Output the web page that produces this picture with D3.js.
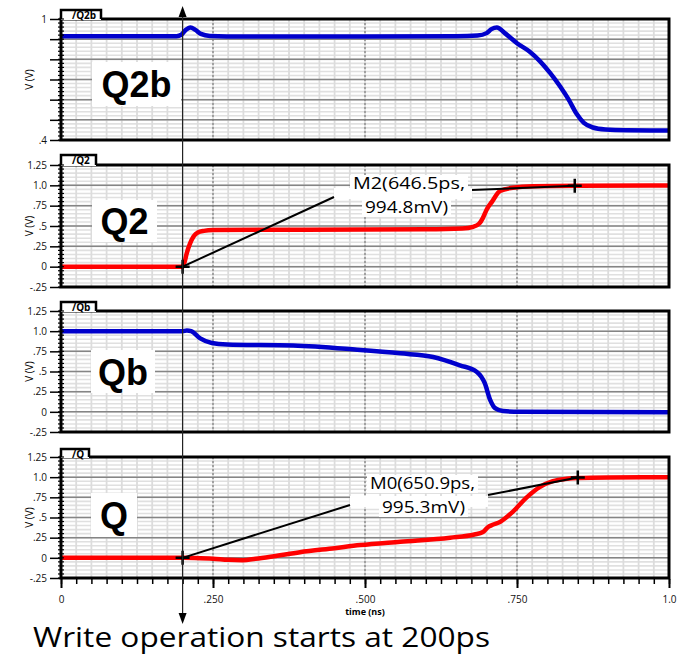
<!DOCTYPE html>
<html>
<head>
<meta charset="utf-8">
<script src="https://cdn.jsdelivr.net/npm/d3@7"></script>
<style>
  body { margin: 0; background: #fff; }
</style>
</head>
<body>
<div id="chart"></div>
<script>
// data: [time (ns), voltage (V)]
var q2b = [[0, 0.915], [0.19, 0.915], [0.198, 0.922], [0.205, 0.945], [0.213, 0.958], [0.221, 0.946], [0.23, 0.926], [0.245, 0.916],
  [0.3, 0.913], [0.5, 0.913], [0.65, 0.914], [0.685, 0.918], [0.7, 0.93], [0.708, 0.95], [0.717, 0.958], [0.73, 0.93],
  [0.75, 0.88], [0.77, 0.84], [0.788, 0.79], [0.805, 0.73], [0.821, 0.665], [0.835, 0.6], [0.848, 0.53], [0.86, 0.485],
  [0.875, 0.462], [0.895, 0.452], [0.93, 0.448], [1.0, 0.447]];
var q2 = [[0, 0], [0.2, 0], [0.203, 0.05], [0.207, 0.17], [0.212, 0.28], [0.218, 0.37], [0.225, 0.42], [0.235, 0.44], [0.25, 0.45],
  [0.4, 0.455], [0.6, 0.46], [0.66, 0.47], [0.678, 0.49], [0.688, 0.53], [0.694, 0.6], [0.7, 0.7], [0.709, 0.8],
  [0.722, 0.93], [0.743, 0.97], [0.776, 0.99], [0.85, 0.995], [1.0, 0.998]];
var qb = [[0, 1.0], [0.2, 1.0], [0.207, 1.008], [0.214, 1.0], [0.229, 0.91], [0.248, 0.853], [0.273, 0.835], [0.382, 0.822],
  [0.487, 0.77], [0.558, 0.725], [0.612, 0.68], [0.656, 0.577], [0.684, 0.495], [0.697, 0.355], [0.706, 0.145],
  [0.714, 0.046], [0.727, 0.01], [0.755, 0.0], [1.0, -0.005]];
var q = [[0, 0], [0.2, 0], [0.22, -0.002], [0.25, -0.01], [0.275, -0.025], [0.299, -0.03], [0.32, -0.012], [0.35, 0.02],
  [0.393, 0.07], [0.45, 0.12], [0.492, 0.158], [0.558, 0.2], [0.64, 0.25], [0.68, 0.29], [0.694, 0.32], [0.702, 0.38],
  [0.71, 0.41], [0.722, 0.445], [0.743, 0.57], [0.766, 0.75], [0.788, 0.88], [0.809, 0.95], [0.832, 0.98],
  [0.85, 0.99], [0.9, 0.997], [1.0, 1.0]];

var yTicksMain = [-0.25, 0, 0.25, 0.5, 0.75, 1.0, 1.25];
var yLabelsMain = ["-.25", "0", ".25", ".5", ".75", "1.0", "1.25"];
var yTicksQ2b = [0.4, 0.5, 0.6, 0.7, 0.8, 0.9, 1.0];
var yLabelsQ2b = [".4", "", "", "", "", "", "1"];
var xTicks = [0, 0.25, 0.5, 0.75, 1.0];
var xLabels = ["0", ".250", ".500", ".750", "1.0"];

// markers: [time, voltage] and label lines
var writeStart = 0.2;
var m2 = { t: 0.845, v: 0.9948, lines: ["M2(646.5ps,", "994.8mV)"] };
var m0 = { t: 0.85, v: 0.9953, lines: ["M0(650.9ps,", "995.3mV)"] };

var sans = "'Open Sans', 'Liberation Sans', sans-serif";
var arial = "'Liberation Sans', Arial, sans-serif";

var svgWidth = 679, svgHeight = 658;
var svg = d3.select("#chart").append("svg")
  .attr("width", svgWidth).attr("height", svgHeight);

var x = d3.scaleLinear().domain([0, 1]).range([61, 669]);

var panels = [
  { name: "/Q2b", big: "Q2b", data: q2b, color: "#0000cc", top: 19, bottom: 140, domain: [0.4, 1.0], ticks: yTicksQ2b, labels: yLabelsQ2b, minor: 0.02, tabW: 40, tabTop: 10, box: [92, 62, 89, 44] },
  { name: "/Q2", big: "Q2", data: q2, color: "#ff0000", top: 165, bottom: 287, domain: [-0.25, 1.25], ticks: yTicksMain, labels: yLabelsMain, minor: 0.05, tabW: 35, tabTop: 155, box: [92, 200, 65, 42] },
  { name: "/Qb", big: "Qb", data: qb, color: "#0000cc", top: 311, bottom: 432, domain: [-0.25, 1.25], ticks: yTicksMain, labels: yLabelsMain, minor: 0.05, tabW: 35, tabTop: 302, box: [91, 350, 64, 43] },
  { name: "/Q", big: "Q", data: q, color: "#ff0000", top: 457, bottom: 578, domain: [-0.25, 1.25], ticks: yTicksMain, labels: yLabelsMain, minor: 0.05, tabW: 28, tabTop: 449, box: [91, 493, 46, 44] }
];

var minorX = d3.range(0, 1.0001, 0.025);

panels.forEach(function (p) {
  var y = d3.scaleLinear().domain(p.domain).range([p.bottom, p.top]);
  p.y = y;
  var g = svg.append("g");
  var minorY = d3.range(p.domain[0], p.domain[1] + 1e-6, p.minor);

  // light grid
  g.selectAll(".mh").data(minorY).enter().append("line")
    .attr("x1", x(0)).attr("x2", x(1))
    .attr("y1", d => y(d)).attr("y2", d => y(d))
    .attr("stroke", "#e0e0e0").attr("stroke-width", 1.6);
  g.selectAll(".mv").data(minorX).enter().append("line")
    .attr("x1", d => x(d)).attr("x2", d => x(d))
    .attr("y1", p.top).attr("y2", p.bottom)
    .attr("stroke", "#dcdcdc").attr("stroke-width", 1.8);

  // major grid
  g.selectAll(".Mh").data(p.ticks.slice(1, -1)).enter().append("line")
    .attr("x1", x(0)).attr("x2", x(1))
    .attr("y1", d => y(d)).attr("y2", d => y(d))
    .attr("stroke", "#858585").attr("stroke-width", 1.5);
  g.selectAll(".Mv").data(xTicks.slice(1, -1)).enter().append("line")
    .attr("x1", d => x(d)).attr("x2", d => x(d))
    .attr("y1", p.top).attr("y2", p.bottom)
    .attr("stroke", "#7a7a7a").attr("stroke-width", 1.2)
    .attr("stroke-dasharray", "2,2");

  // big label box
  g.append("rect")
    .attr("x", p.box[0]).attr("y", p.box[1])
    .attr("width", p.box[2]).attr("height", p.box[3])
    .attr("fill", "#fff");
  g.append("text")
    .attr("x", p.box[0] + p.box[2] / 2).attr("y", p.box[1] + p.box[3] / 2 + 13)
    .attr("text-anchor", "middle")
    .style("font-family", arial)
    .attr("font-size", 36).attr("font-weight", "bold")
    .text(p.big);

  // waveform
  var line = d3.line()
    .x(d => x(d[0])).y(d => y(d[1]))
    .curve(d3.curveMonotoneX);
  g.append("path").datum(p.data)
    .attr("d", line)
    .attr("fill", "none")
    .attr("stroke", p.color)
    .attr("stroke-width", 4.5)
    .attr("stroke-linejoin", "round");

  // frame
  g.append("rect")
    .attr("x", x(0)).attr("y", p.top)
    .attr("width", x(1) - x(0)).attr("height", p.bottom - p.top)
    .attr("fill", "none").attr("stroke", "#000").attr("stroke-width", 3);

  // name tab
  g.append("rect")
    .attr("x", x(0)).attr("y", p.tabTop)
    .attr("width", p.tabW).attr("height", p.top - p.tabTop + 1)
    .attr("fill", "#fff");
  g.append("path")
    .attr("d", `M${x(0)},${p.top} V${p.tabTop} H${x(0) + p.tabW} V${p.top}`)
    .attr("fill", "none").attr("stroke", "#000").attr("stroke-width", 2.5);
  g.append("text")
    .attr("x", x(0) + 11).attr("y", p.tabTop + 8.5)
    .style("font-family", sans)
    .attr("font-size", 10).attr("font-weight", "bold")
    .text(p.name);

  // left axis
  var leftAxis = d3.axisLeft(y).tickValues(p.ticks)
    .tickFormat((d, i) => p.labels[i]).tickSize(10).tickSizeOuter(0);
  var ax = g.append("g").attr("transform", `translate(${x(0) - 1},0)`).call(leftAxis);
  ax.select(".domain").remove();
  ax.selectAll(".tick line").attr("stroke", "#000").attr("stroke-width", 1.5);
  ax.selectAll(".tick text").attr("font-size", 10).attr("fill", "#111")
    .style("font-family", sans);
  g.selectAll(".comb").data(minorY).enter().append("line")
    .attr("x1", x(0) - 3).attr("x2", x(0) + 3)
    .attr("y1", d => y(d)).attr("y2", d => y(d))
    .attr("stroke", "#000").attr("stroke-width", 1.2);

  g.append("text")
    .attr("transform", `translate(33,${(p.top + p.bottom) / 2}) rotate(-90)`)
    .attr("text-anchor", "middle")
    .style("font-family", sans)
    .attr("font-size", 10)
    .text("V (V)");
});

// bottom axis on the last panel
var last = panels[3];
var minorAxis = d3.axisBottom(x).tickValues(minorX).tickSize(5).tickFormat("");
var mAx = svg.append("g").attr("transform", `translate(0,${last.bottom + 1})`).call(minorAxis);
mAx.select(".domain").remove();
mAx.selectAll(".tick line").attr("stroke", "#000").attr("stroke-width", 1.5);
var bottomAxis = d3.axisBottom(x).tickValues(xTicks)
  .tickFormat((d, i) => xLabels[i]).tickSize(9).tickPadding(8);
var bAx = svg.append("g").attr("transform", `translate(0,${last.bottom + 1})`).call(bottomAxis);
bAx.select(".domain").remove();
bAx.selectAll(".tick line").attr("stroke", "#000").attr("stroke-width", 2);
bAx.selectAll(".tick text").attr("font-size", 10).attr("fill", "#111")
  .style("font-family", sans);

svg.append("text")
  .attr("x", x(0.5)).attr("y", 615)
  .attr("text-anchor", "middle")
  .style("font-family", sans)
  .attr("font-size", 9).attr("font-weight", "bold")
  .text("time (ns)");

// marker annotations
function marker(cx, cy) {
  svg.append("path")
    .attr("d", `M${cx - 7},${cy} H${cx + 7} M${cx},${cy - 7} V${cy + 7}`)
    .attr("stroke", "#000").attr("stroke-width", 2.5);
}

function annotate(p, m, leftEnd, rightEnd, textX, base1, widths) {
  var x0 = x(writeStart), y0 = p.y(0);
  var xm = x(m.t), ym = p.y(m.v);
  // white backgrounds behind label text
  svg.append("rect").attr("x", leftEnd[0]).attr("y", leftEnd[1] - 9)
    .attr("width", rightEnd[0] - leftEnd[0]).attr("height", 11).attr("fill", "#fff");
  svg.append("rect").attr("x", textX[0] - 3).attr("y", base1 - 14)
    .attr("width", widths[0] + 6).attr("height", 18).attr("fill", "#fff");
  svg.append("rect").attr("x", textX[1] - 3).attr("y", base1 + 10)
    .attr("width", widths[1] + 6).attr("height", 18).attr("fill", "#fff");
  svg.append("line").attr("x1", x0).attr("y1", y0).attr("x2", leftEnd[0]).attr("y2", leftEnd[1])
    .attr("stroke", "#000").attr("stroke-width", 2);
  svg.append("line").attr("x1", rightEnd[0]).attr("y1", rightEnd[1]).attr("x2", xm).attr("y2", ym)
    .attr("stroke", "#000").attr("stroke-width", 2);
  m.lines.forEach(function (s, i) {
    svg.append("text")
      .attr("x", textX[i]).attr("y", base1 + i * 24)
      .style("font-family", sans)
      .attr("font-size", 16)
      .attr("textLength", widths[i]).attr("lengthAdjust", "spacingAndGlyphs")
      .text(s);
  });
  marker(x0, y0);
  marker(xm, ym);
}

annotate(panels[1], m2, [334, 197], [472, 190], [353, 365], 189, [112, 83]);
annotate(panels[3], m0, [350, 505], [488, 495], [370, 382], 489, [105, 83]);

// write-start arrow
var ax0 = x(writeStart);
svg.append("line").attr("x1", ax0).attr("x2", ax0).attr("y1", 12).attr("y2", 616)
  .attr("stroke", "#222").attr("stroke-width", 1.2);
svg.append("path").attr("d", `M${ax0},6 L${ax0 - 4},17 L${ax0 + 4},17 Z`).attr("fill", "#000");
svg.append("path").attr("d", `M${ax0},624 L${ax0 - 4},613 L${ax0 + 4},613 Z`).attr("fill", "#000");

svg.append("text")
  .attr("x", 33).attr("y", 647)
  .style("font-family", sans)
  .attr("font-size", 27)
  .attr("textLength", 457).attr("lengthAdjust", "spacingAndGlyphs")
  .text("Write operation starts at 200ps");
</script>
</body>
</html>
